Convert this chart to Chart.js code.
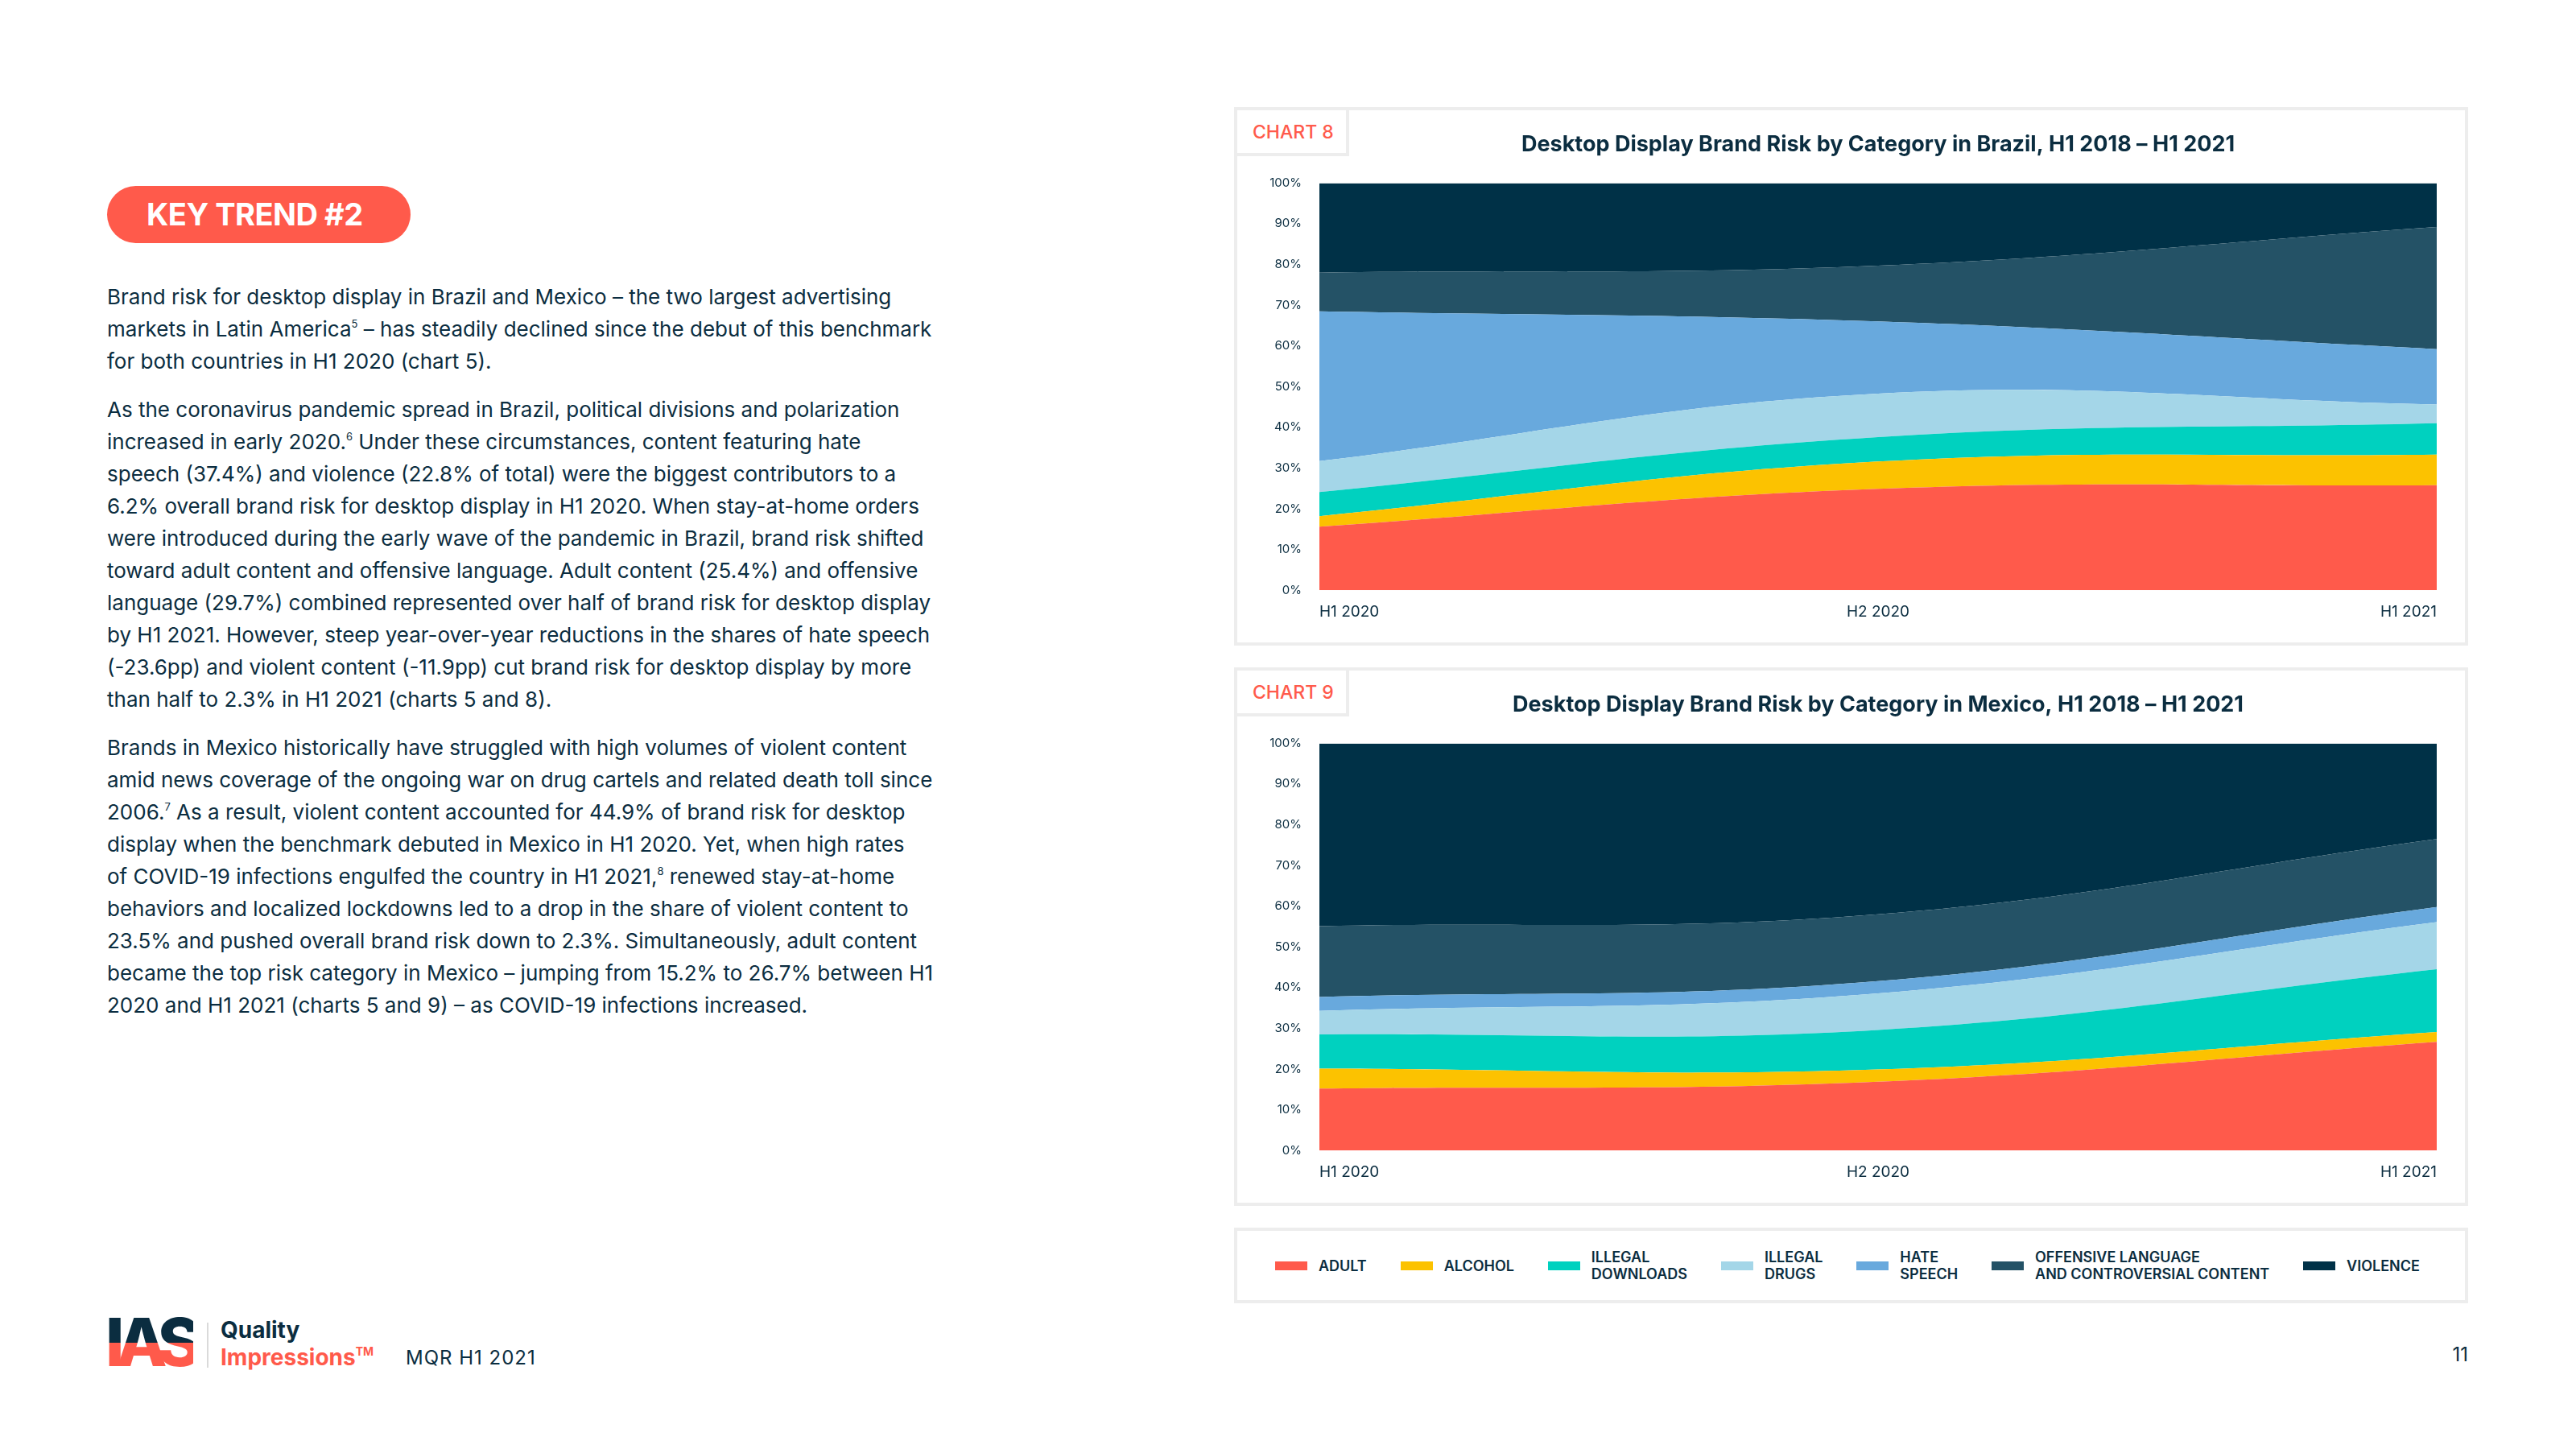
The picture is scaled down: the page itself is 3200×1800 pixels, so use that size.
<!DOCTYPE html>
<html>
<head>
<meta charset="utf-8">
<script src="https://cdn.jsdelivr.net/npm/chart.js@4.4.1/dist/chart.umd.min.js"></script>
<style>
  html, body { margin: 0; padding: 0; background: #ffffff; }
  body { width: 3200px; height: 1800px; position: relative; overflow: hidden; font-family: Inter, "Noto Sans", sans-serif; color: #0b2d40; }
  .pill { position: absolute; left: 133px; top: 231px; width: 377px; height: 71px; border-radius: 36px; background: #ff5a4b; color: #fff; font-weight: 700; font-size: 38px; line-height: 71px; padding-left: 49px; box-sizing: border-box; letter-spacing: -0.5px; }
  .body-text { position: absolute; left: 133px; top: 349px; font-size: 26px; line-height: 40px; white-space: nowrap; }
  .body-text p { margin: 0 0 20px 0; }
  .body-text sup { font-size: 13px; line-height: 0; vertical-align: 11px; }
  .panel { position: absolute; left: 1533px; width: 1533px; box-sizing: border-box; border: 4px solid #ededed; background: #fff; }
  .tab { position: absolute; left: -4px; top: -4px; width: 143px; height: 61px; box-sizing: border-box; border: 4px solid #ededed; color: #ff5a4b; font-size: 23px; font-weight: 500; line-height: 55px; padding-left: 19px; }
  canvas { position: absolute; }
  .legend { position: absolute; left: 1533px; top: 1525px; width: 1533px; height: 94px; box-sizing: border-box; border: 4px solid #ededed; display: flex; align-items: center; justify-content: space-between; padding: 0 56px 0 47px; }
  .legend-item { display: flex; align-items: center; font-size: 18px; font-weight: 600; line-height: 21px; color: #0b2d40; }
  .legend-item .sw { width: 40px; height: 11px; margin-right: 14px; flex: none; }
  .logo { position: absolute; left: 131px; top: 1622px; font-size: 82px; font-weight: 800; line-height: 92px; letter-spacing: -10px;
          background: linear-gradient(#0b2d40 0 50%, #ff5a4b 50% 100%); -webkit-background-clip: text; background-clip: text; color: transparent; }
  .logo-sep { position: absolute; left: 257px; top: 1643px; width: 2px; height: 56px; background: #dadada; }
  .logo-q { position: absolute; left: 274px; top: 1635px; font-size: 28px; font-weight: 700; color: #0b2d40; }
  .logo-i { position: absolute; left: 274px; top: 1669px; font-size: 28px; font-weight: 700; color: #ff5a4b; }
  .logo-i span { font-size: 14px; vertical-align: 12px; }
  .mqr { position: absolute; left: 504px; top: 1672px; font-size: 24px; letter-spacing: 1px; color: #0b2d40; }
  .page { position: absolute; right: 134px; top: 1668px; font-size: 24px; color: #0b2d40; }
</style>
</head>
<body>

<div class="pill">KEY TREND #2</div>

<div class="body-text">
  <p>Brand risk for desktop display in Brazil and Mexico – the two largest advertising<br>
  markets in Latin America<sup>5</sup> – has steadily declined since the debut of this benchmark<br>
  for both countries in H1 2020 (chart 5).</p>
  <p>As the coronavirus pandemic spread in Brazil, political divisions and polarization<br>
  increased in early 2020.<sup>6</sup> Under these circumstances, content featuring hate<br>
  speech (37.4%) and violence (22.8% of total) were the biggest contributors to a<br>
  6.2% overall brand risk for desktop display in H1 2020. When stay-at-home orders<br>
  were introduced during the early wave of the pandemic in Brazil, brand risk shifted<br>
  toward adult content and offensive language. Adult content (25.4%) and offensive<br>
  language (29.7%) combined represented over half of brand risk for desktop display<br>
  by H1 2021. However, steep year-over-year reductions in the shares of hate speech<br>
  (-23.6pp) and violent content (-11.9pp) cut brand risk for desktop display by more<br>
  than half to 2.3% in H1 2021 (charts 5 and 8).</p>
  <p>Brands in Mexico historically have struggled with high volumes of violent content<br>
  amid news coverage of the ongoing war on drug cartels and related death toll since<br>
  2006.<sup>7</sup> As a result, violent content accounted for 44.9% of brand risk for desktop<br>
  display when the benchmark debuted in Mexico in H1 2020. Yet, when high rates<br>
  of COVID-19 infections engulfed the country in H1 2021,<sup>8</sup> renewed stay-at-home<br>
  behaviors and localized lockdowns led to a drop in the share of violent content to<br>
  23.5% and pushed overall brand risk down to 2.3%. Simultaneously, adult content<br>
  became the top risk category in Mexico – jumping from 15.2% to 26.7% between H1<br>
  2020 and H1 2021 (charts 5 and 9) – as COVID-19 infections increased.</p>
</div>

<div class="panel" style="top:133px;height:669px;"><div class="tab">CHART 8</div></div>
<div class="panel" style="top:829px;height:669px;"><div class="tab">CHART 9</div></div>
<canvas id="chartBrazil" style="left:1560px;top:150px;width:1532px;height:638px;"></canvas>
<canvas id="chartMexico" style="left:1560px;top:846px;width:1532px;height:638px;"></canvas>

<div class="legend" id="legend"></div>

<div class="logo">IAS</div>
<div class="logo-sep"></div>
<div class="logo-q">Quality</div>
<div class="logo-i">Impressions<span>TM</span></div>
<div class="mqr">MQR H1 2021</div>
<div class="page">11</div>

<script>
  // periods on the x axis
  const periods = ['H1 2020', 'H2 2020', 'H1 2021'];
  // risk categories, bottom to top of the stack
  const categories = ['ADULT', 'ALCOHOL', 'ILLEGAL DOWNLOADS', 'ILLEGAL DRUGS', 'HATE SPEECH', 'OFFENSIVE LANGUAGE AND CONTROVERSIAL CONTENT', 'VIOLENCE'];
  const legendLines = [['ADULT'], ['ALCOHOL'], ['ILLEGAL', 'DOWNLOADS'], ['ILLEGAL', 'DRUGS'], ['HATE', 'SPEECH'], ['OFFENSIVE LANGUAGE', 'AND CONTROVERSIAL CONTENT'], ['VIOLENCE']];
  const yTicks = [0, 10, 20, 30, 40, 50, 60, 70, 80, 90, 100];

  // chart 8 - Brazil (share of brand risk, %)
  const brazilAdult = [15.6, 24.9, 25.8];
  const brazilAlcohol = [2.6, 6.7, 7.5];
  const brazilDownloads = [5.9, 6.0, 7.7];
  const brazilDrugs = [7.6, 10.7, 4.6];
  const brazilHate = [36.8, 17.7, 13.6];
  const brazilOffensive = [9.5, 13.7, 30.0];
  const brazilViolence = [22.0, 20.3, 10.8];

  // chart 9 - Mexico (share of brand risk, %)
  const mexicoAdult = [15.2, 16.9, 26.7];
  const mexicoAlcohol = [4.9, 3.0, 2.4];
  const mexicoDownloads = [8.4, 9.7, 15.4];
  const mexicoDrugs = [5.8, 9.0, 11.6];
  const mexicoHate = [3.4, 3.0, 3.7];
  const mexicoOffensive = [17.4, 16.4, 16.7];
  const mexicoViolence = [44.9, 42.0, 23.5];

  const colors = ['#ff5a4b', '#fcc200', '#00d1bf', '#a4d6e8', '#68a9dd', '#245266', '#003147'];
  const textColor = '#0b2d40';

  function buildDatasets(series) {
      return series.map((values, i) => {
          return {
              label: categories[i],
              data: values,
              backgroundColor: colors[i],
              borderColor: colors[i],
              borderWidth: 0,
              pointRadius: 0,
              tension: 0.4,
              fill: i === 0 ? 'origin' : '-1'
          };
      });
  }

  function makeChart(id, title, series) {
      let canvas = document.getElementById(id);
      canvas.width = 1532;
      canvas.height = 638;
      return new Chart(canvas.getContext('2d'), {
          type: 'line',
          data: {
              labels: periods,
              datasets: buildDatasets(series)
          },
          options: {
              responsive: false,
              animation: false,
              devicePixelRatio: 1,
              layout: {
                  padding: { top: 0, right: 65, bottom: 0, left: 0 }
              },
              scales: {
                  x: {
                      offset: false,
                      grid: { display: false, drawTicks: false },
                      border: { display: false },
                      ticks: {
                          color: textColor,
                          align: 'inner',
                          maxRotation: 0,
                          padding: 16,
                          font: { family: 'Inter', size: 19 }
                      }
                  },
                  y: {
                      stacked: true,
                      min: 0,
                      max: 100,
                      grid: { display: false, drawTicks: false },
                      border: { display: false },
                      afterFit: function (scale) {
                          scale.width = 79;
                      },
                      afterBuildTicks: function (scale) {
                          scale.ticks = yTicks.map(v => ({ value: v }));
                      },
                      ticks: {
                          color: textColor,
                          padding: 22,
                          font: { family: 'Inter', size: 15 },
                          callback: function (value) {
                              return value + '%';
                          }
                      }
                  }
              },
              plugins: {
                  legend: { display: false },
                  tooltip: { enabled: false },
                  title: {
                      display: true,
                      fullSize: false,
                      text: title,
                      color: textColor,
                      font: { family: 'Inter', size: 27, weight: 'bold' },
                      padding: { top: 14, bottom: 31 }
                  }
              }
          }
      });
  }

  makeChart('chartBrazil', 'Desktop Display Brand Risk by Category in Brazil, H1 2018 – H1 2021',
      [brazilAdult, brazilAlcohol, brazilDownloads, brazilDrugs, brazilHate, brazilOffensive, brazilViolence]);
  makeChart('chartMexico', 'Desktop Display Brand Risk by Category in Mexico, H1 2018 – H1 2021',
      [mexicoAdult, mexicoAlcohol, mexicoDownloads, mexicoDrugs, mexicoHate, mexicoOffensive, mexicoViolence]);

  // shared legend below both charts
  let legend = document.getElementById('legend');
  legendLines.forEach((lines, i) => {
      let item = document.createElement('div');
      item.className = 'legend-item';
      let sw = document.createElement('span');
      sw.className = 'sw';
      sw.style.background = colors[i];
      let txt = document.createElement('span');
      txt.innerHTML = lines.join('<br>');
      item.appendChild(sw);
      item.appendChild(txt);
      legend.appendChild(item);
  });
</script>
</body>
</html>
